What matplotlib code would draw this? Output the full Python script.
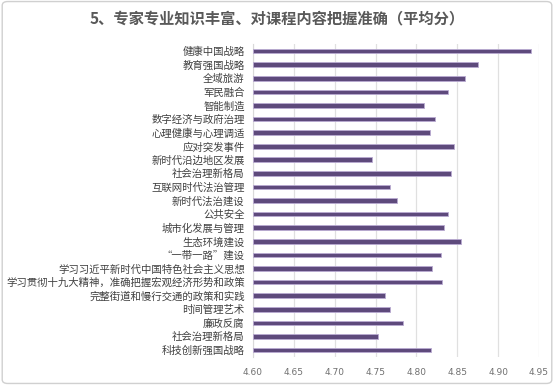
import matplotlib
matplotlib.use("Agg")
import matplotlib.pyplot as plt
from matplotlib.patches import FancyBboxPatch

plt.rcParams['font.family'] = ['Noto Sans CJK SC', 'DejaVu Sans']

categories = [
    "健康中国战略", "教育强国战略", "全域旅游", "军民融合", "智能制造",
    "数字经济与政府治理", "心理健康与心理调适", "应对突发事件", "新时代沿边地区发展",
    "社会治理新格局", "互联网时代法治管理", "新时代法治建设", "公共安全",
    "城市化发展与管理", "生态环境建设", "“一带一路”建设",
    "学习习近平新时代中国特色社会主义思想",
    "学习贯彻十九大精神，准确把握宏观经济形势和政策",
    "完整街道和慢行交通的政策和实践", "时间管理艺术", "廉政反腐",
    "社会治理新格局", "科技创新强国战略",
]
values = [
    4.940, 4.875, 4.859, 4.839, 4.809, 4.823, 4.817, 4.846, 4.745,
    4.842, 4.768, 4.776, 4.839, 4.834, 4.854, 4.830, 4.819, 4.831,
    4.762, 4.768, 4.784, 4.753, 4.818,
]
x_ticks = [4.60, 4.65, 4.70, 4.75, 4.80, 4.85, 4.90, 4.95]
title = "5、专家专业知识丰富、对课程内容把握准确（平均分）"

fig = plt.figure(figsize=(5.54, 3.85), dpi=100)
fig.patch.set_facecolor("white")
border = FancyBboxPatch((0.004, 0.004), 0.992, 0.992,
                        boxstyle="round,pad=0,rounding_size=0.01",
                        transform=fig.transFigure, fill=False,
                        edgecolor="#d0d0d0", linewidth=1.0)
fig.patches.append(border)

ax = fig.add_axes([0.4567, 0.0732, 0.5163, 0.8118])
n = len(categories)
pos = list(range(n))
ax.barh(pos, [v - x_ticks[0] for v in values], left=x_ticks[0], height=0.34,
        color="#5e4a7c", edgecolor="#b9aad2", linewidth=0.6, zorder=3)
ax.set_ylim(n - 0.5, -0.5)
ax.set_xlim(x_ticks[0], x_ticks[-1])
ax.set_xticks(x_ticks)
ax.set_xticklabels([f"{t:.2f}" for t in x_ticks], fontsize=6.5, color="#707070",
                   family=['DejaVu Sans'])
ax.set_yticks(pos)
ax.set_yticklabels(categories, fontsize=7.5, color="#404040")
ax.tick_params(axis='both', length=0)
ax.tick_params(axis='y', pad=6)
ax.tick_params(axis='x', pad=8)
ax.grid(axis='x', color="#e0e0e0", linewidth=0.9, zorder=0)
for s in ["top", "right", "bottom"]:
    ax.spines[s].set_visible(False)
ax.spines["left"].set_color("#d9d9d9")
ax.spines["left"].set_linewidth(0.8)

fig.text(0.5, 0.952, title, ha="center", va="center", fontsize=11,
         color="#595959", fontweight="bold")

fig.savefig("out.png", dpi=100)
